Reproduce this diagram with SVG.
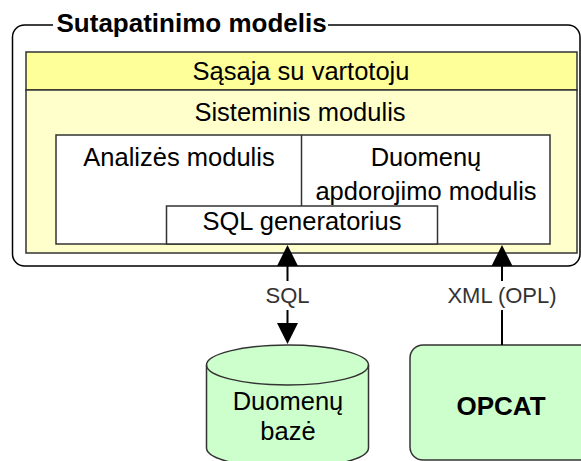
<svg xmlns="http://www.w3.org/2000/svg" width="581" height="461" viewBox="0 0 581 461">
<style>
.box{stroke:#333;stroke-width:1.5}
.t{font-family:"Liberation Sans",Arial,sans-serif;font-size:25.5px;fill:#000;text-anchor:middle}
.b{font-weight:bold}
.lbl{font-family:"Liberation Sans",Arial,sans-serif;font-size:22px;fill:#333;text-anchor:middle}
.conn{stroke:#000;stroke-width:2;fill:none}
</style>
<defs>
<marker id="ah" markerUnits="userSpaceOnUse" markerWidth="22" markerHeight="22" refX="0" refY="10.5" orient="auto" viewBox="0 0 22 21">
<path d="M0,0 L21,10.5 L0,21 Z" fill="#000"/>
</marker>
</defs>
<rect width="581" height="461" fill="#fff"/>
<g id="sutapatinimo-modelis">
<rect x="12.5" y="25" width="567.5" height="241" rx="12" ry="12" fill="#fff" stroke="#000" stroke-width="1.5"/>
<rect x="53" y="14" width="275" height="20" fill="#fff"/>
<text class="t b" x="56.5" y="31.5" font-size="26" style="font-size:26px;text-anchor:start">Sutapatinimo modelis</text>
</g>
<g id="sasaja">
<rect class="box" x="26" y="52" width="551" height="38" fill="#FFFF99"/>
<text class="t" x="301" y="80">Sąsaja su vartotoju</text>
</g>
<g id="sisteminis-modulis">
<rect class="box" x="26" y="90" width="551" height="163" fill="#FFFFCC"/>
<text class="t" x="300" y="121">Sisteminis modulis</text>
</g>
<g id="analizes-modulis">
<rect class="box" x="56" y="135" width="494" height="109" fill="#fff"/>
<line class="box" x1="301.5" y1="135" x2="301.5" y2="206"/>
<text class="t" x="179" y="166">Analizės modulis</text>
</g>
<g id="duomenu-apdorojimo-modulis">
<text class="t" x="426" y="166">Duomenų</text>
<text class="t" x="426" y="199.5">apdorojimo modulis</text>
</g>
<g id="sql-generatorius">
<rect class="box" x="166.5" y="206" width="271" height="38" fill="#fff"/>
<text class="t" x="302" y="229.5">SQL generatorius</text>
</g>
<g id="duomenu-baze">
<path class="box" d="M206.5,365 L206.5,448 A81,20 0 0 0 368.5,448 L368.5,365 A81,20 0 0 0 206.5,365 Z" fill="#CCFFCC"/>
<path class="box" d="M206.5,365 A81,20 0 0 0 368.5,365" fill="none"/>
<text class="t" x="288" y="410">Duomenų</text>
<text class="t" x="288" y="440">bazė</text>
</g>
<g id="opcat">
<rect class="box" x="410" y="345" width="200" height="115" rx="13" ry="13" fill="#CCFFCC"/>
<text class="t b" x="501" y="415" style="font-size:26px">OPCAT</text>
</g>
<g id="connectors">
<path class="conn" d="M287.5,281 L287.5,266" marker-end="url(#ah)"/>
<path class="conn" d="M287.5,310 L287.5,323" marker-end="url(#ah)"/>
<text class="lbl" x="287.5" y="302.5">SQL</text>
<path class="conn" d="M502,345 L502,310"/>
<path class="conn" d="M502,281 L502,266" marker-end="url(#ah)"/>
<text class="lbl" x="502" y="302.5">XML (OPL)</text>
</g>
</svg>
